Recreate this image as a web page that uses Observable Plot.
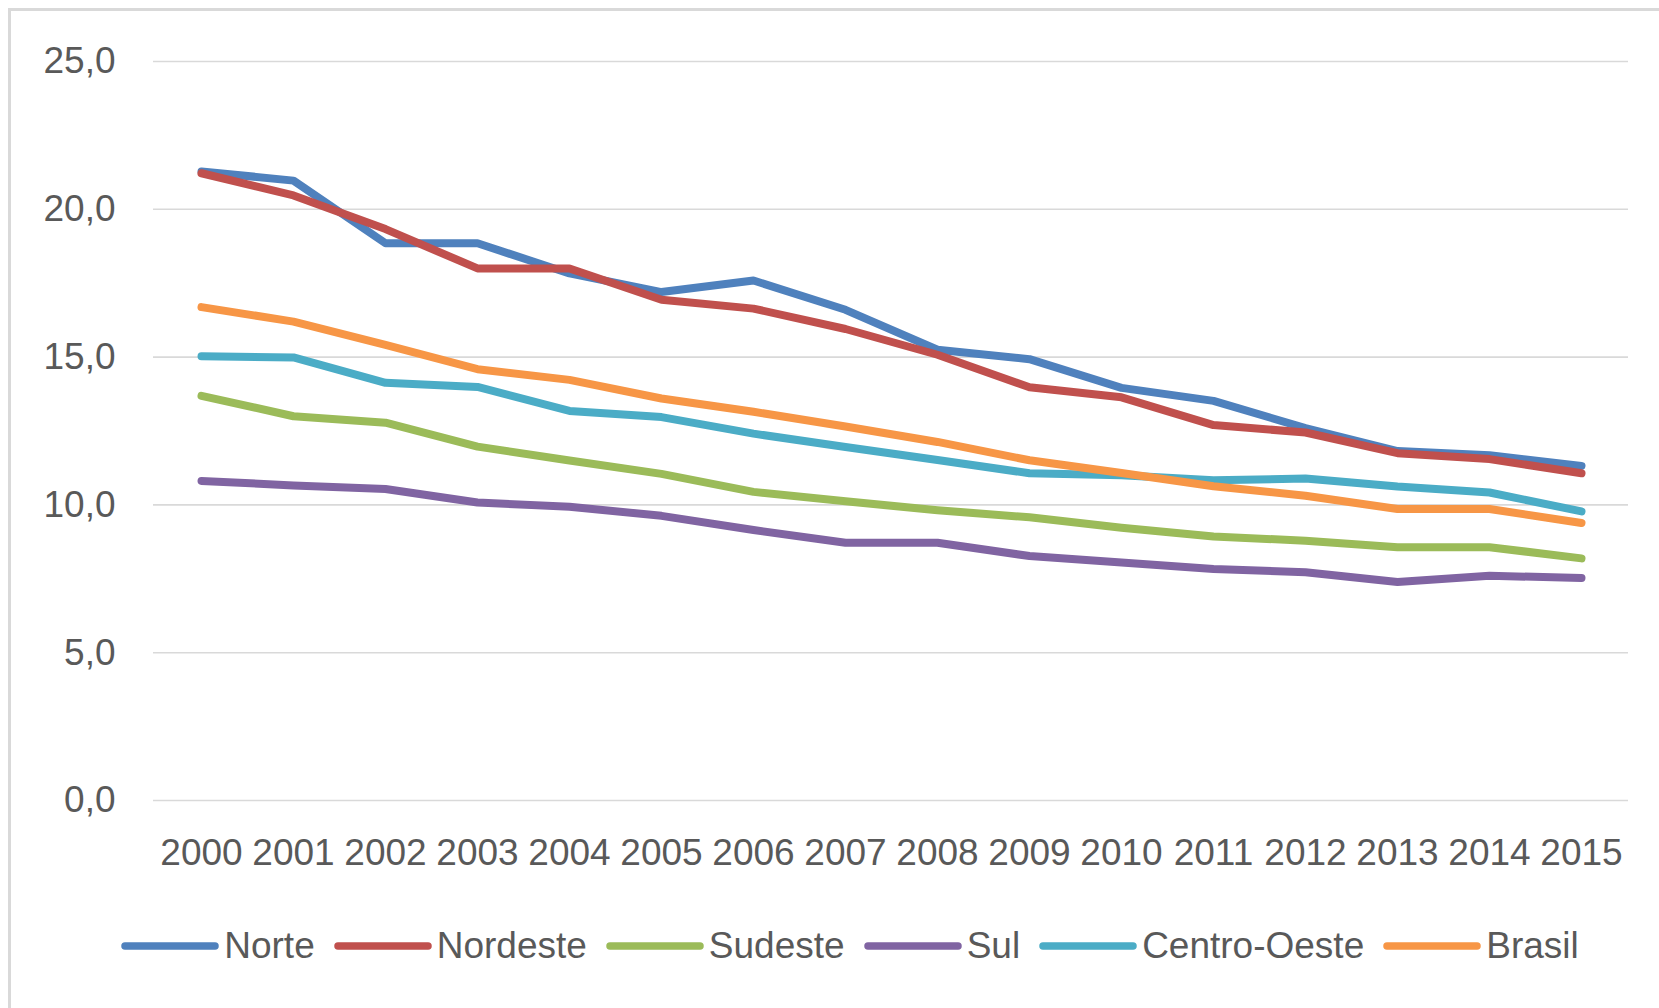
<!DOCTYPE html>
<html>
<head>
<meta charset="utf-8">
<script src="https://cdn.jsdelivr.net/npm/d3@7"></script>
<script src="https://cdn.jsdelivr.net/npm/@observablehq/plot@0.6"></script>
<style>
  html, body { margin: 0; padding: 0; background: #fff; overflow: hidden; width: 1659px; height: 1008px; }
  body { position: relative; font-family: "Liberation Sans", Arial, sans-serif; color: #595959; }
  #frame { position: absolute; left: 8px; top: 8px; width: 2000px; height: 2000px;
           border-left: 3px solid #d9d9d9; border-top: 3px solid #d9d9d9; }
  #chart { position: absolute; left: 0; top: 0; }
  #legend { position: absolute; left: 0; width: 1700px; top: 925px; display: flex; justify-content: center;
            align-items: center; gap: 19px; font-size: 37px; color: #595959; }
  .item { display: flex; align-items: center; gap: 5px; }
</style>
</head>
<body>
<div id="frame"></div>
<div id="chart"></div>
<div id="legend"></div>
<script>
const years = ["2000","2001","2002","2003","2004","2005","2006","2007","2008","2009","2010","2011","2012","2013","2014","2015"];
const seriesNames = ["Norte", "Nordeste", "Sudeste", "Sul", "Centro-Oeste", "Brasil"];
const seriesColors = ["#4F81BD", "#C0504D", "#9BBB59", "#8064A2", "#4BACC6", "#F79646"];
const norte      = [21.28, 20.97, 18.85, 18.85, 17.83, 17.2, 17.59, 16.6, 15.25, 14.93, 13.96, 13.52, 12.6, 11.82, 11.68, 11.32];
const nordeste   = [21.22, 20.47, 19.33, 18.0, 18.0, 16.94, 16.64, 15.95, 15.08, 13.98, 13.64, 12.7, 12.45, 11.75, 11.55, 11.07];
const sudeste    = [13.69, 13.0, 12.78, 11.97, 11.5, 11.05, 10.44, 10.12, 9.82, 9.58, 9.23, 8.93, 8.79, 8.57, 8.57, 8.19];
const sul        = [10.81, 10.66, 10.54, 10.08, 9.94, 9.63, 9.15, 8.72, 8.72, 8.27, 8.05, 7.83, 7.72, 7.39, 7.6, 7.53];
const centroOeste= [15.03, 14.99, 14.13, 13.99, 13.18, 12.97, 12.41, 11.96, 11.52, 11.07, 11.0, 10.83, 10.89, 10.62, 10.42, 9.78];
const brasil     = [16.69, 16.2, 15.41, 14.59, 14.23, 13.6, 13.15, 12.65, 12.13, 11.51, 11.08, 10.63, 10.31, 9.86, 9.86, 9.39];
const yTicks = [0, 5, 10, 15, 20, 25];

const seriesValues = [norte, nordeste, sudeste, sul, centroOeste, brasil];
const data = seriesNames.flatMap((name, s) => seriesValues[s].map((v, i) => ({year: years[i], value: v, series: name})));

const fmt = d => d.toFixed(1).replace(".", ",");

const chart = Plot.plot({
  width: 1659,
  height: 880,
  marginLeft: 153,
  marginRight: 31,
  marginTop: 61,
  marginBottom: 80,
  style: {fontFamily: '"Liberation Sans", Arial, sans-serif', color: "#595959", background: "transparent"},
  x: {type: "point", domain: years, padding: 0.5},
  y: {domain: [0, 25]},
  color: {domain: seriesNames, range: seriesColors},
  marks: [
    Plot.gridY(yTicks, {stroke: "#d9d9d9", strokeOpacity: 1, strokeWidth: 1.6}),
    Plot.axisY(yTicks, {tickFormat: fmt, tickSize: 0, tickPadding: 38, fontSize: 37, label: null, fill: "#595959"}),
    Plot.axisX({tickSize: 0, tickPadding: 38, fontSize: 37, label: null, fill: "#595959"}),
    ...seriesNames.map(name => Plot.lineY(data.filter(d => d.series === name), {
      x: "year", y: "value", stroke: "series", strokeWidth: 8, strokeLinejoin: "round", strokeLinecap: "round"
    }))
  ]
});
document.getElementById("chart").appendChild(chart);

const legend = document.getElementById("legend");
seriesNames.forEach((name, i) => {
  const item = document.createElement("div");
  item.className = "item";
  item.innerHTML = `<svg width="98" height="10"><line x1="4" y1="5" x2="94" y2="5" stroke="${seriesColors[i]}" stroke-width="7.5" stroke-linecap="round"/></svg><span>${name}</span>`;
  legend.appendChild(item);
});
</script>
</body>
</html>
